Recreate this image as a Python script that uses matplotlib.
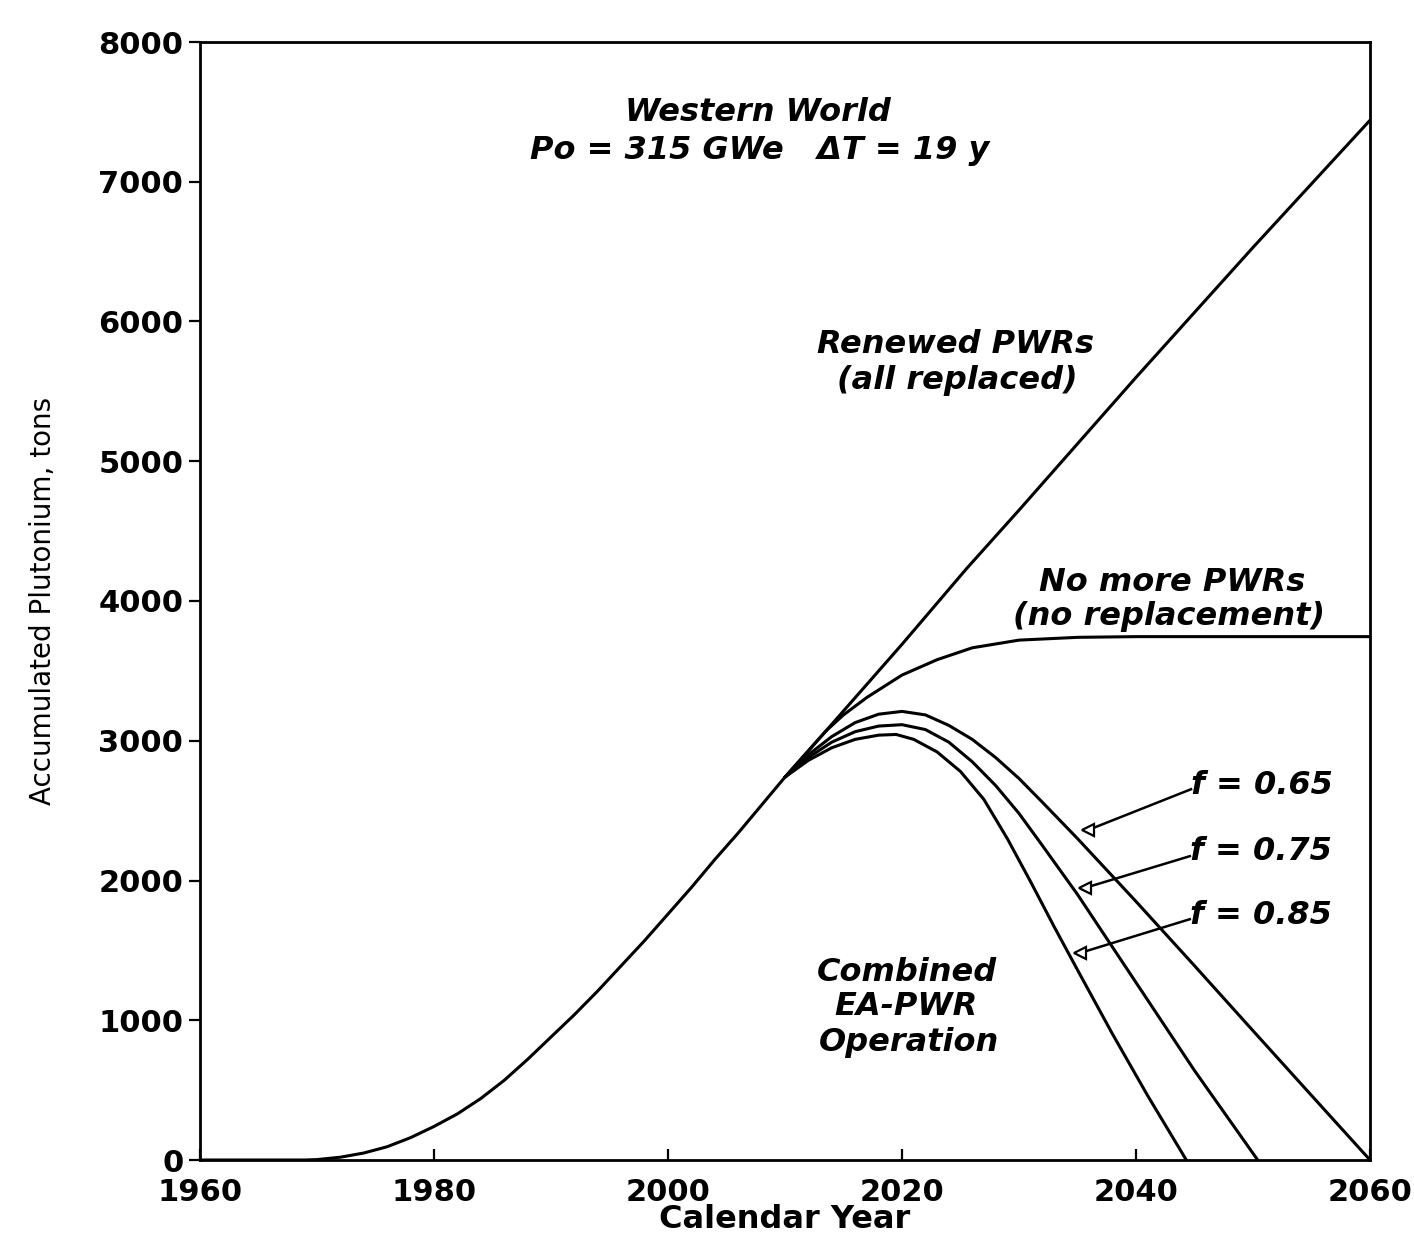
import matplotlib
matplotlib.use("Agg")
import matplotlib.pyplot as plt

# Shared build-up of plutonium before the scenarios diverge
base_years = [1960, 1965, 1969, 1970, 1972, 1974, 1976, 1978, 1980, 1982,
              1984, 1986, 1988, 1990, 1992, 1994, 1996, 1998, 2000, 2002,
              2004, 2006, 2008, 2010]
base_pu = [0, 0, 0, 3, 20, 50, 95, 160, 240, 330,
           440, 570, 720, 880, 1040, 1210, 1390, 1570, 1760, 1950,
           2150, 2340, 2540, 2740]

# Renewed PWRs (all replaced)
renewed_years = [2010, 2013.5, 2020, 2025.5, 2030, 2040, 2050, 2060]
renewed_pu = [2740, 3070, 3690, 4230, 4650, 5600, 6530, 7440]

# No more PWRs (no replacement)
nomore_years = [2010, 2013.5, 2015, 2017, 2020, 2023, 2026, 2030, 2035,
                2040, 2060]
nomore_pu = [2740, 3070, 3185, 3310, 3470, 3580, 3665, 3720, 3740,
             3745, 3745]

# Combined EA-PWR operation for three values of f
f065_years = [2010, 2012, 2014, 2016, 2018, 2020, 2022, 2024, 2026, 2028,
              2030, 2032, 2035, 2040, 2045, 2050, 2055, 2060]
f065_pu = [2740, 2900, 3030, 3130, 3190, 3210, 3185, 3110, 3010, 2880,
           2730, 2560, 2300, 1850, 1390, 925, 462, 0]

f075_years = [2010, 2012, 2014, 2016, 2018, 2020, 2022, 2024, 2026, 2028,
              2030, 2032, 2035, 2040, 2045, 2050.4]
f075_pu = [2740, 2880, 2990, 3065, 3105, 3115, 3080, 2990, 2850, 2680,
           2480, 2250, 1900, 1270, 640, 0]

f085_years = [2010, 2012, 2014, 2016, 2018, 2019.5, 2021, 2023, 2025, 2027,
              2029, 2031, 2033, 2035, 2038, 2041, 2044.3]
f085_pu = [2740, 2860, 2950, 3010, 3040, 3045, 3010, 2920, 2780, 2580,
           2300, 1990, 1670, 1360, 900, 460, 0]

x_ticks = [1960, 1980, 2000, 2020, 2040, 2060]
y_ticks = [0, 1000, 2000, 3000, 4000, 5000, 6000, 7000, 8000]

f_labels = ["f = 0.65", "f = 0.75", "f = 0.85"]
f_label_pos = [(2044.7, 2683), (2044.6, 2204), (2044.6, 1753)]
f_pointer_pos = [(2035.9, 2361), (2035.6, 1946), (2035.2, 1481)]

fig = plt.figure(figsize=(14.14, 12.34), dpi=100)
ax = fig.add_axes([200 / 1414, 1 - 1160 / 1234, 1170 / 1414, 1118 / 1234])

line_kw = dict(color="black", lw=2.2, solid_capstyle="round",
               solid_joinstyle="round")
ax.plot(base_years, base_pu, **line_kw)
ax.plot(renewed_years, renewed_pu, **line_kw)
ax.plot(nomore_years, nomore_pu, **line_kw)
ax.plot(f065_years, f065_pu, **line_kw)
ax.plot(f075_years, f075_pu, **line_kw)
ax.plot(f085_years, f085_pu, **line_kw)

ax.set_xlim(1960, 2060)
ax.set_ylim(0, 8000)
ax.set_xticks(x_ticks)
ax.set_yticks(y_ticks)
ax.set_xticklabels([str(v) for v in x_ticks])
ax.set_yticklabels([str(v) for v in y_ticks])

for s in ax.spines.values():
    s.set_linewidth(2.0)
    s.set_color("black")

ax.tick_params(axis="x", direction="in", length=8, width=1.6, pad=13)
ax.tick_params(axis="y", direction="out", length=8, width=1.6, pad=4)
for lab in ax.get_xticklabels() + ax.get_yticklabels():
    lab.set_fontsize(22)
    lab.set_fontweight("bold")

ax.set_xlabel("Calendar Year", fontsize=23, fontweight="bold", labelpad=-2)
ax.set_ylabel("Accumulated Plutonium, tons", fontsize=20, labelpad=30)

note_kw = dict(fontsize=23, style="italic", fontweight="bold", ha="center",
               va="center", color="black")
ax.text(2007.7, 7492, "Western World", **note_kw)
ax.text(2007.8, 7227, "Po = 315 GWe   \u0394T = 19 y", **note_kw)
ax.text(2024.6, 5832, "Renewed PWRs", **note_kw)
ax.text(2024.7, 5581, "(all replaced)", **note_kw)
ax.text(2043.1, 4129, "No more PWRs", **note_kw)
ax.text(2042.8, 3886, "(no replacement)", **note_kw)
ax.text(2020.4, 1345, "Combined", **note_kw)
ax.text(2020.3, 1095, "EA-PWR", **note_kw)
ax.text(2020.6, 844, "Operation", **note_kw)

for label, (lx, ly), (px, py) in zip(f_labels, f_label_pos, f_pointer_pos):
    ax.text(lx, ly, label, fontsize=23, style="italic", fontweight="bold",
            ha="left", va="center")
    ax.plot([lx, px], [ly - 30, py], color="black", lw=1.8)
    ax.plot([px], [py], marker="<", markersize=8, markerfacecolor="white",
            markeredgecolor="black", markeredgewidth=1.6)

fig.savefig("out.png", dpi=100, facecolor="white")
